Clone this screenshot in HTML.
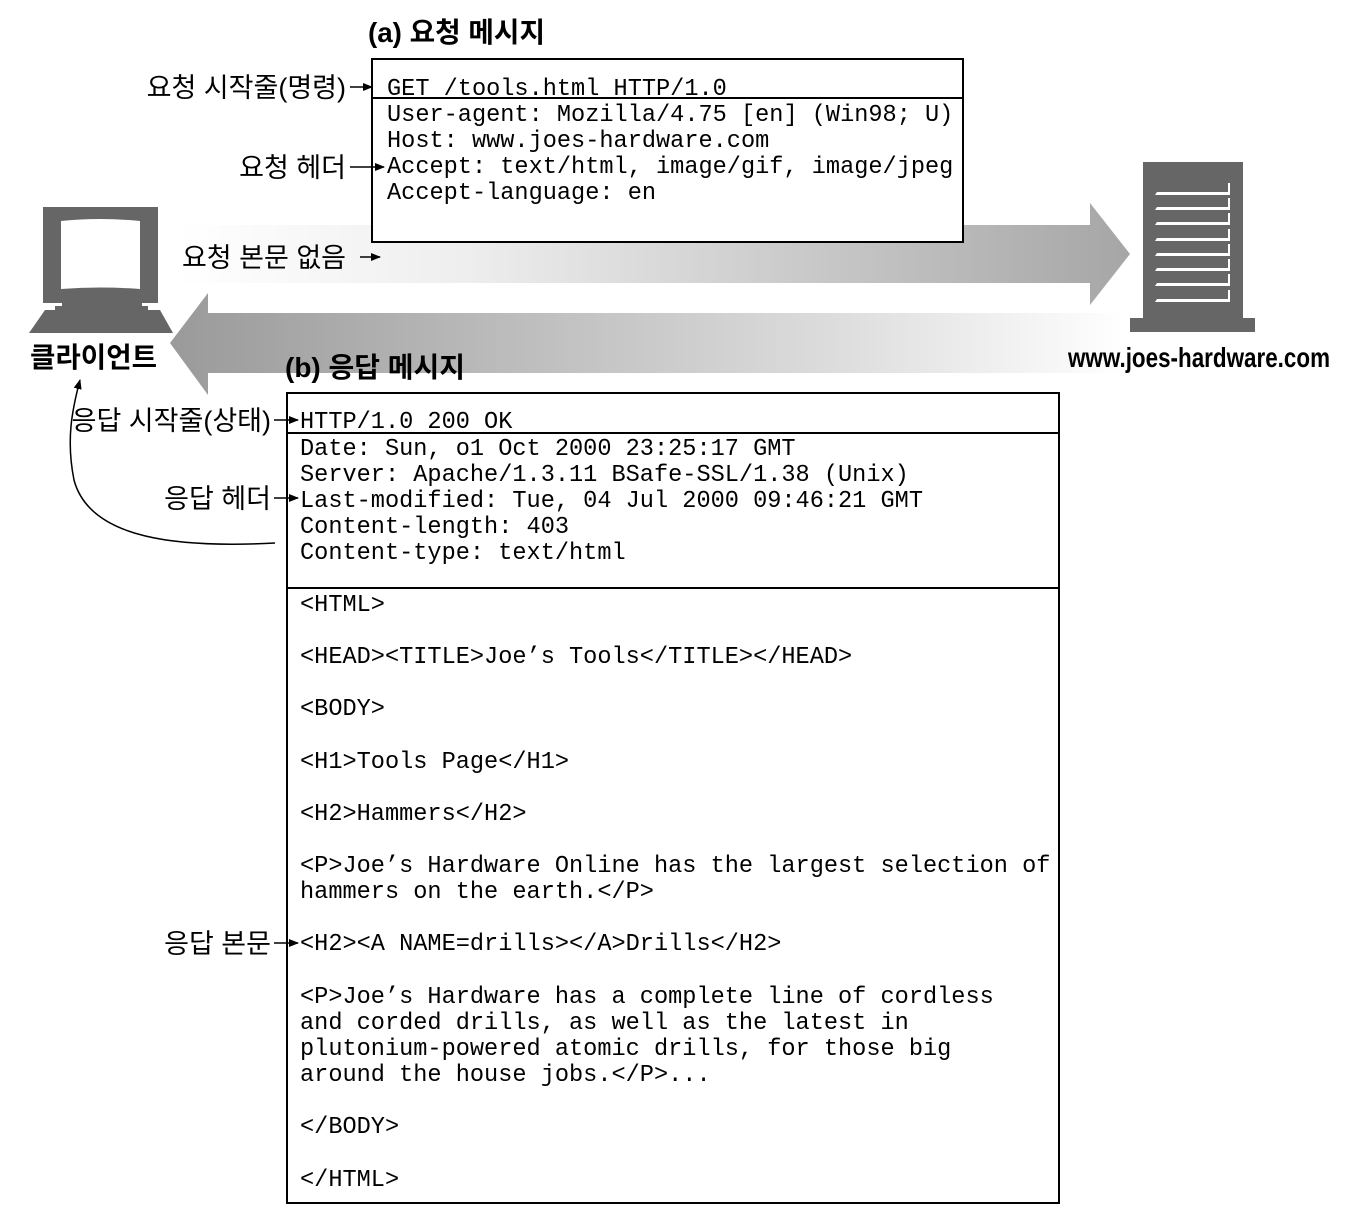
<!DOCTYPE html>
<html><head><meta charset="utf-8"><style>
html,body{margin:0;padding:0;background:#fff;}
svg{display:block;}
.m{font-family:"Liberation Mono",monospace;font-size:23.6px;fill:#000;}
.k{font-family:"Liberation Sans","Noto Sans CJK KR",sans-serif;font-size:27px;fill:#000;}
.b{font-family:"Liberation Sans","Noto Sans CJK KR",sans-serif;font-size:28px;font-weight:bold;fill:#000;}
</style></head><body>
<svg width="1362" height="1226" viewBox="0 0 1362 1226" xmlns="http://www.w3.org/2000/svg">
<defs>
<linearGradient id="g1" x1="0" x2="1" y1="0" y2="0">
<stop offset="0" stop-color="#ffffff"/><stop offset="0.3" stop-color="#eeeeee"/><stop offset="1" stop-color="#a6a6a6"/>
</linearGradient>
<linearGradient id="g2" x1="0" x2="1" y1="0" y2="0">
<stop offset="0" stop-color="#9a9a9a"/><stop offset="0.7" stop-color="#dddddd"/><stop offset="1" stop-color="#ffffff"/>
</linearGradient>
<marker id="ah" markerWidth="10" markerHeight="8" refX="9" refY="4" orient="auto" markerUnits="userSpaceOnUse">
<path d="M0,0 L10,4 L0,8 Z" fill="#000"/></marker>
</defs>
<path d="M180,225 L1090,225 L1090,203 L1130,254 L1090,305 L1090,283 L180,283 Z" fill="url(#g1)"/>
<path d="M1125,313 L208,313 L208,293 L170,343 L208,395 L208,373 L1125,373 Z" fill="url(#g2)"/>
<rect x="43" y="207" width="115" height="96" fill="#666"/>
<path d="M61,221 Q100,217 140,221 L140,289 Q100,286 61,289 Z" fill="#fff"/>
<rect x="62" y="302" width="80" height="6" fill="#666"/>
<rect x="55" y="306" width="93" height="6" fill="#666"/>
<path d="M45,310 L160,310 L173,333 L29,333 Z" fill="#666"/>
<text class="b" x="30" y="367" font-size="30" textLength="127" lengthAdjust="spacingAndGlyphs">클라이언트</text>
<rect x="1143" y="162" width="100" height="158" fill="#666"/>
<rect x="1130" y="318" width="125" height="14" fill="#666"/>
<g fill="#fff">
<path d="M1157,192 L1228,192 L1228,183 L1230,183 L1230,195 L1155,195 Z"/>
<path d="M1157,207 L1228,207 L1228,198 L1230,198 L1230,210 L1155,210 Z"/>
<path d="M1157,222 L1228,222 L1228,213 L1230,213 L1230,225 L1155,225 Z"/>
<path d="M1157,238 L1228,238 L1228,229 L1230,229 L1230,241 L1155,241 Z"/>
<path d="M1157,253 L1228,253 L1228,244 L1230,244 L1230,256 L1155,256 Z"/>
<path d="M1157,268 L1228,268 L1228,259 L1230,259 L1230,271 L1155,271 Z"/>
<path d="M1157,283 L1228,283 L1228,274 L1230,274 L1230,286 L1155,286 Z"/>
<path d="M1157,299 L1228,299 L1228,290 L1230,290 L1230,302 L1155,302 Z"/>
</g>
<text class="b" x="1068" y="367" font-size="25" textLength="262" lengthAdjust="spacingAndGlyphs">www.joes-hardware.com</text>
<text class="b" x="368" y="42" textLength="177" lengthAdjust="spacingAndGlyphs">(a) 요청 메시지</text>
<text class="b" x="285" y="377" textLength="180" lengthAdjust="spacingAndGlyphs">(b) 응답 메시지</text>
<rect x="372" y="59" width="591" height="183" fill="#fff" stroke="#000" stroke-width="2"/>
<line x1="372" y1="98" x2="963" y2="98" stroke="#000" stroke-width="2"/>
<g class="m" xml:space="preserve">
<text x="387" y="95">GET /tools.html HTTP/1.0</text>
<text x="387" y="121">User-agent: Mozilla/4.75 [en] (Win98; U)</text>
<text x="387" y="147">Host: www.joes-hardware.com</text>
<text x="387" y="173">Accept: text/html, image/gif, image/jpeg</text>
<text x="387" y="199">Accept-language: en</text>
</g>
<rect x="287" y="393" width="772" height="810" fill="#fff" stroke="#000" stroke-width="2"/>
<line x1="287" y1="433" x2="1059" y2="433" stroke="#000" stroke-width="2"/>
<line x1="287" y1="588" x2="1059" y2="588" stroke="#000" stroke-width="2"/>
<g class="m" xml:space="preserve">
<text x="300" y="428">HTTP/1.0 200 OK</text>
<text x="300" y="455">Date: Sun, o1 Oct 2000 23:25:17 GMT</text>
<text x="300" y="481">Server: Apache/1.3.11 BSafe-SSL/1.38 (Unix)</text>
<text x="300" y="507">Last-modified: Tue, 04 Jul 2000 09:46:21 GMT</text>
<text x="300" y="533">Content-length: 403</text>
<text x="300" y="559">Content-type: text/html</text>
<text x="300" y="611">&lt;HTML&gt;</text>
<text x="300" y="663">&lt;HEAD&gt;&lt;TITLE&gt;Joe’s Tools&lt;/TITLE&gt;&lt;/HEAD&gt;</text>
<text x="300" y="715">&lt;BODY&gt;</text>
<text x="300" y="768">&lt;H1&gt;Tools Page&lt;/H1&gt;</text>
<text x="300" y="820">&lt;H2&gt;Hammers&lt;/H2&gt;</text>
<text x="300" y="872">&lt;P&gt;Joe’s Hardware Online has the largest selection of</text>
<text x="300" y="898">hammers on the earth.&lt;/P&gt;</text>
<text x="300" y="950">&lt;H2&gt;&lt;A NAME=drills&gt;&lt;/A&gt;Drills&lt;/H2&gt;</text>
<text x="300" y="1003">&lt;P&gt;Joe’s Hardware has a complete line of cordless</text>
<text x="300" y="1029">and corded drills, as well as the latest in</text>
<text x="300" y="1055">plutonium-powered atomic drills, for those big</text>
<text x="300" y="1081">around the house jobs.&lt;/P&gt;...</text>
<text x="300" y="1133">&lt;/BODY&gt;</text>
<text x="300" y="1186">&lt;/HTML&gt;</text>
</g>
<g class="k" text-anchor="end">
<text x="346" y="97">요청 시작줄(명령)</text>
<text x="346" y="177">요청 헤더</text>
<text x="346" y="267">요청 본문 없음</text>
<text x="271" y="430">응답 시작줄(상태)</text>
<text x="271" y="508">응답 헤더</text>
<text x="271" y="953">응답 본문</text>
</g>
<g stroke="#000" stroke-width="1.5" fill="none" marker-end="url(#ah)">
<line x1="350" y1="87" x2="372" y2="87"/>
<line x1="350" y1="167" x2="384" y2="167"/>
<line x1="360" y1="257" x2="380" y2="257"/>
<line x1="274" y1="420" x2="298" y2="420"/>
<line x1="274" y1="498" x2="298" y2="498"/>
<line x1="274" y1="943" x2="298" y2="943"/>
<path d="M275,543 C180,548 90,540 74,480 C66,440 72,410 80,380"/>
</g>
</svg>
</body></html>
